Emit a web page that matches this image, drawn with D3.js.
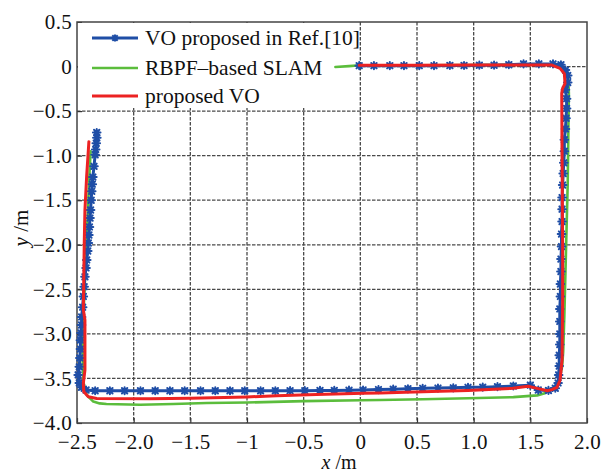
<!DOCTYPE html>
<html>
<head>
<meta charset="utf-8">
<script src="https://cdn.jsdelivr.net/npm/d3@7"></script>
<style>
  body { margin: 0; background: #fff; }
  svg { display: block; }
</style>
</head>
<body>
<svg id="chart" width="606" height="474"></svg>
<script>
// tick labels as printed on the figure
const xTicks = [-2.5, -2.0, -1.5, -1, -0.5, 0, 0.5, 1.0, 1.5, 2.0];
const xTickLabels = ["\u22122.5", "\u22122.0", "\u22121.5", "\u22121", "\u22120.5", "0", "0.5", "1.0", "1.5", "2.0"];
const yTicks = [0.5, 0, -0.5, -1.0, -1.5, -2.0, -2.5, -3.0, -3.5, -4.0];
const yTickLabels = ["0.5", "0", "\u22120.5", "\u22121.0", "\u22121.5", "\u22122.0", "\u22122.5", "\u22123.0", "\u22123.5", "\u22124.0"];

const seriesNames = ["VO proposed in Ref.[10]", "RBPF\u2013based SLAM", "proposed VO"];

// VO proposed in Ref.[10] (x, y) in m
const voRef10 = [
  [-0.01, 0.01], [0.12, 0.01], [0.26, 0.01], [0.385, 0.01], [0.52, 0.01], [0.65, 0.01],
  [0.79, 0.012], [0.915, 0.012], [1.05, 0.015], [1.18, 0.015], [1.31, 0.02], [1.44, 0.03],
  [1.575, 0.03], [1.70, 0.03], [1.77, 0.02], [1.81, -0.04], [1.83, -0.10], [1.83, -0.18],
  [1.81, -0.26], [1.82, -0.36], [1.82, -0.47], [1.815, -0.58], [1.81, -0.70], [1.80, -0.82],
  [1.80, -0.95], [1.795, -1.08], [1.79, -1.20], [1.785, -1.33], [1.78, -1.47], [1.78, -1.60],
  [1.78, -1.74], [1.775, -1.88], [1.775, -2.02], [1.77, -2.16], [1.77, -2.30], [1.765, -2.44],
  [1.765, -2.58], [1.76, -2.72], [1.76, -2.86], [1.76, -3.00], [1.76, -3.12], [1.755, -3.24],
  [1.755, -3.36], [1.75, -3.46], [1.745, -3.55], [1.72, -3.61], [1.66, -3.635], [1.57, -3.63],
  [1.50, -3.575], [1.35, -3.585], [1.21, -3.592], [1.08, -3.598], [0.95, -3.60], [0.82, -3.605],
  [0.685, -3.608], [0.55, -3.611], [0.42, -3.616], [0.29, -3.62], [0.16, -3.625], [0.024, -3.63],
  [-0.10, -3.632], [-0.23, -3.635], [-0.356, -3.635], [-0.49, -3.637], [-0.62, -3.637],
  [-0.75, -3.638], [-0.88, -3.638], [-1.02, -3.638], [-1.15, -3.638], [-1.28, -3.638],
  [-1.41, -3.638], [-1.55, -3.638], [-1.68, -3.638], [-1.81, -3.638], [-1.94, -3.638],
  [-2.08, -3.638], [-2.21, -3.638], [-2.34, -3.638], [-2.42, -3.63], [-2.46, -3.60],
  [-2.48, -3.55], [-2.49, -3.46], [-2.48, -3.37], [-2.475, -3.27], [-2.47, -3.17], [-2.47, -3.07],
  [-2.465, -2.99], [-2.46, -2.90], [-2.459, -2.81], [-2.45, -2.70], [-2.444, -2.58],
  [-2.437, -2.47], [-2.43, -2.36], [-2.42, -2.26], [-2.414, -2.17], [-2.405, -2.07],
  [-2.40, -1.98], [-2.395, -1.89], [-2.39, -1.80], [-2.385, -1.70], [-2.38, -1.61],
  [-2.375, -1.50], [-2.37, -1.40], [-2.365, -1.32], [-2.36, -1.24], [-2.35, -1.12],
  [-2.34, -0.99], [-2.335, -0.93], [-2.33, -0.86], [-2.325, -0.80], [-2.326, -0.74]
];

// RBPF-based SLAM
const rbpfSlam = [
  [-0.22, -0.005], [-0.10, 0.005], [0.0, 0.015], [0.5, 0.015], [1.0, 0.018], [1.5, 0.022],
  [1.68, 0.02], [1.76, 0.0], [1.81, -0.05], [1.835, -0.14], [1.84, -0.3], [1.835, -0.8],
  [1.83, -1.3], [1.82, -1.8], [1.81, -2.3], [1.80, -2.8], [1.79, -3.2], [1.78, -3.37],
  [1.76, -3.48], [1.744, -3.555], [1.70, -3.61], [1.67, -3.635], [1.62, -3.67], [1.56, -3.69],
  [1.35, -3.71], [0.95, -3.722], [0.55, -3.733], [0.17, -3.742], [0.0, -3.745], [-0.5, -3.755],
  [-1.0, -3.77], [-1.356, -3.775], [-1.65, -3.787], [-1.944, -3.795], [-2.24, -3.787],
  [-2.30, -3.78], [-2.356, -3.76], [-2.414, -3.686], [-2.44, -3.56], [-2.445, -3.48],
  [-2.45, -3.3], [-2.45, -3.0], [-2.44, -2.7], [-2.43, -2.4], [-2.42, -2.1], [-2.41, -1.8],
  [-2.40, -1.5], [-2.39, -1.2], [-2.38, -0.95]
];

// proposed VO
const proposedVO = [
  [-0.01, 0.015], [0.5, 0.015], [1.0, 0.017], [1.5, 0.018], [1.69, 0.017], [1.762, -0.02],
  [1.80, -0.08], [1.806, -0.19], [1.785, -0.244], [1.777, -0.30], [1.78, -1.0], [1.785, -2.0],
  [1.785, -2.62], [1.78, -3.29], [1.762, -3.52], [1.735, -3.60], [1.69, -3.625], [1.65, -3.638],
  [1.56, -3.611], [1.48, -3.588], [1.347, -3.611], [0.95, -3.635], [0.553, -3.65], [0.174, -3.662],
  [0.026, -3.667], [-0.385, -3.68], [-0.738, -3.694], [-1.003, -3.708], [-1.50, -3.722],
  [-1.856, -3.728], [-2.326, -3.724], [-2.40, -3.705], [-2.44, -3.65], [-2.444, -3.555],
  [-2.43, -3.405], [-2.43, -2.845], [-2.444, -2.73], [-2.44, -2.36], [-2.436, -1.98],
  [-2.43, -1.61], [-2.415, -1.236], [-2.395, -0.843]
];

const colors = { blue: "#1f4ea6", green: "#5bbd3c", red: "#ec2222" };
const FONT = "Liberation Serif";

const svg = d3.select("#chart");
const mLeft = 77, mRight = 587, mTop = 22, mBottom = 423;

const x = d3.scaleLinear().domain([-2.5, 2.0]).range([mLeft, mRight]);
const y = d3.scaleLinear().domain([-4.0, 0.5]).range([mBottom, mTop]);

// grid
const grid = svg.append("g").attr("stroke", "#4a4a4a").attr("stroke-width", 1.3)
  .attr("stroke-dasharray", "3.5,1.5");
grid.selectAll("line.vx").data(xTicks.slice(1, -1)).join("line")
  .attr("x1", d => x(d)).attr("x2", d => x(d)).attr("y1", mTop).attr("y2", mBottom);
grid.selectAll("line.hy").data(yTicks.slice(1, -1)).join("line")
  .attr("y1", d => y(d)).attr("y2", d => y(d)).attr("x1", mLeft).attr("x2", mRight);

// axes (ticks inward, labels outside)
const xAxis = d3.axisBottom(x).tickValues(xTicks).tickSize(-5).tickPadding(11)
  .tickFormat((d, i) => xTickLabels[i]);
const yAxis = d3.axisLeft(y).tickValues(yTicks).tickSize(-5).tickPadding(5)
  .tickFormat((d, i) => yTickLabels[i]);

const gx = svg.append("g").attr("transform", `translate(0,${mBottom})`).call(xAxis);
const gy = svg.append("g").attr("transform", `translate(${mLeft},0)`).call(yAxis);
[gx, gy].forEach(g => {
  g.attr("font-family", FONT).attr("font-size", 21);
  g.select(".domain").remove();
  g.selectAll(".tick line").attr("stroke", "#333").attr("stroke-width", 1.2);
  g.selectAll(".tick text").attr("fill", "#111").attr("letter-spacing", 0.3);
});

// frame
svg.append("rect").attr("x", mLeft).attr("y", mTop)
  .attr("width", mRight - mLeft).attr("height", mBottom - mTop)
  .attr("fill", "none").attr("stroke", "#444").attr("stroke-width", 1.5);

// legend background hides grid behind it
svg.append("rect").attr("x", mLeft + 1).attr("y", mTop + 1)
  .attr("width", 279).attr("height", 85).attr("fill", "#fff");

const line = d3.line().x(d => x(d[0])).y(d => y(d[1]));

const plot = svg.append("g").attr("fill", "none")
  .attr("stroke-linejoin", "round").attr("stroke-linecap", "round");

plot.append("path").datum(rbpfSlam).attr("d", line)
  .attr("stroke", colors.green).attr("stroke-width", 2.6);

plot.append("path").datum(voRef10).attr("d", line)
  .attr("stroke", colors.blue).attr("stroke-width", 3);

const star = "M0,-3.6V3.6M-3.8,0H3.8M-2.7,-2.7L2.7,2.7M-2.7,2.7L2.7,-2.7";
plot.append("g").selectAll("path").data(voRef10).join("path")
  .attr("transform", d => `translate(${x(d[0])},${y(d[1])})`)
  .attr("d", star).attr("stroke", colors.blue).attr("stroke-width", 2);

plot.append("path").datum(proposedVO).attr("d", line)
  .attr("stroke", colors.red).attr("stroke-width", 3);

// legend
const legendRows = [
  { name: seriesNames[0], color: colors.blue, y: 38, w: 3, marker: true },
  { name: seriesNames[1], color: colors.green, y: 68, w: 2.6, marker: false },
  { name: seriesNames[2], color: colors.red, y: 96, w: 3, marker: false }
];
const lg = svg.append("g");
legendRows.forEach(r => {
  lg.append("line").attr("x1", 92).attr("x2", 138).attr("y1", r.y).attr("y2", r.y)
    .attr("stroke", r.color).attr("stroke-width", r.w);
  if (r.marker) {
    lg.append("path").attr("transform", `translate(115,${r.y})`).attr("d", star)
      .attr("stroke", r.color).attr("stroke-width", 2).attr("fill", "none");
  }
  lg.append("text").attr("x", 145).attr("y", r.y + 7)
    .attr("font-family", FONT).attr("font-size", 21.5).attr("fill", "#111").text(r.name);
});

// axis titles
const xt = svg.append("text").attr("x", 339).attr("y", 469).attr("text-anchor", "middle")
  .attr("font-family", FONT).attr("font-size", 20).attr("fill", "#111");
xt.append("tspan").attr("font-style", "italic").text("x");
xt.append("tspan").text(" /m");

const yt = svg.append("text").attr("transform", "translate(28,228) rotate(-90)")
  .attr("text-anchor", "middle").attr("font-family", FONT).attr("font-size", 21).attr("fill", "#111");
yt.append("tspan").attr("font-style", "italic").text("y");
yt.append("tspan").text(" /m");
</script>
</body>
</html>
